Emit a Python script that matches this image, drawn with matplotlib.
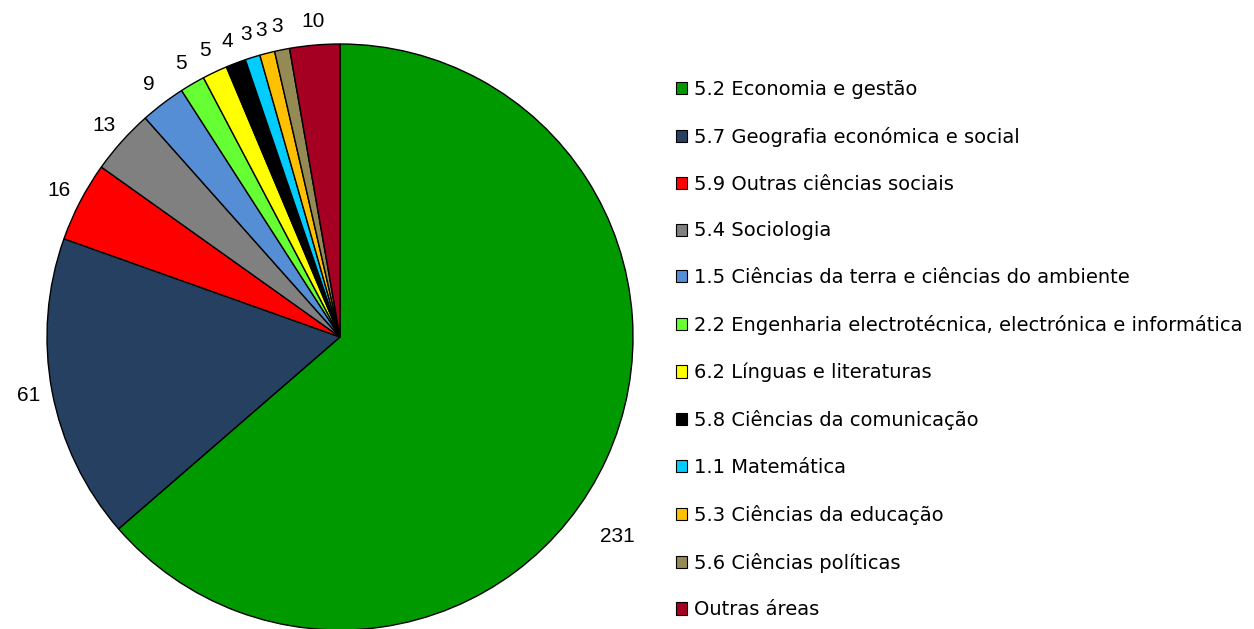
import matplotlib.pyplot as plt
from matplotlib.patches import Patch

areas = [
    "5.2 Economia e gestão",
    "5.7 Geografia económica e social",
    "5.9 Outras ciências sociais",
    "5.4 Sociologia",
    "1.5 Ciências da terra e ciências do ambiente",
    "2.2 Engenharia electrotécnica, electrónica e informática",
    "6.2 Línguas e literaturas",
    "5.8 Ciências da comunicação",
    "1.1 Matemática",
    "5.3 Ciências da educação",
    "5.6 Ciências políticas",
    "Outras áreas",
]
counts = [231, 61, 16, 13, 9, 5, 5, 4, 3, 3, 3, 10]
colors = ["#009900", "#264061", "#FF0000", "#808080", "#558ED5", "#66FF33",
          "#FFFF00", "#000000", "#00CCFF", "#FFC000", "#948A54", "#A50021"]

W, H = 1254, 629
fig = plt.figure(figsize=(W / 100, H / 100), dpi=100)

# pie centre (340, 337) px, radius 293 px
cx, cy, r = 340, 337, 293
ax = fig.add_axes([(cx - r) / W, (H - cy - r) / H, 2 * r / W, 2 * r / H])

wedges, texts = ax.pie(
    counts, colors=colors, startangle=90, counterclock=False,
    labels=[str(c) for c in counts], labeldistance=1.08,
    wedgeprops=dict(edgecolor="black", linewidth=1.0),
    textprops=dict(fontsize=15, family="Liberation Sans", color="black"),
)
# Excel moved the big label a bit
texts[0].set_position((0.945, -0.68))
for t in texts:
    t.set_horizontalalignment("center")
ax.set_xlim(-1, 1)
ax.set_ylim(-1, 1)
ax.set_aspect("equal")
ax.axis("off")

handles = [Patch(facecolor=c, edgecolor="black", linewidth=0.8) for c in colors]
fig.legend(
    handles, areas, loc="upper left", bbox_to_anchor=(676 / W, 1 - 80 / H),
    frameon=False, prop=dict(family="DejaVu Sans", size=14),
    handlelength=0.58, handleheight=0.58, handletextpad=0.36,
    labelspacing=1.43, borderaxespad=0, borderpad=0,
)

fig.savefig("out.png", dpi=100)
